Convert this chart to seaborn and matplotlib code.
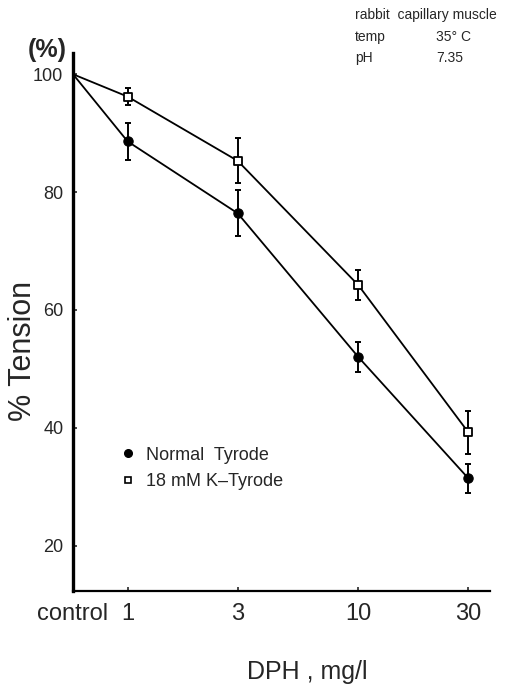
import matplotlib
matplotlib.use("Agg")
import matplotlib.pyplot as plt
import seaborn as sns
import pandas as pd
from matplotlib.lines import Line2D

# ---- data ----
dose_labels = ["control", "1", "3", "10", "30"]
dose_pos = [0.58, 1, 3, 10, 30]          # "control" placed at the left edge of the log axis
normal_mean = [100, 88.6, 76.4, 52.0, 31.4]
normal_err = [0, 3.2, 3.9, 2.5, 2.5]
k_mean = [100, 96.2, 85.3, 64.2, 39.2]
k_err = [0, 1.4, 3.8, 2.6, 3.6]
series_names = ["Normal  Tyrode", "18 mM K\u2013Tyrode"]
yticks = [20, 40, 60, 80, 100]

df = pd.concat([
    pd.DataFrame({"dose": dose_pos, "tension": normal_mean, "err": normal_err, "series": series_names[0]}),
    pd.DataFrame({"dose": dose_pos, "tension": k_mean, "err": k_err, "series": series_names[1]}),
], ignore_index=True)

sns.set_theme(style="ticks")
plt.rcParams["font.family"] = ["Liberation Sans", "DejaVu Sans"]

fig = plt.figure(figsize=(5.31, 6.86), dpi=100)
ax = fig.add_axes([73 / 531, 1 - 591 / 686, (490 - 73) / 531, (591 - 53) / 686])

# lines
sns.lineplot(data=df, x="dose", y="tension", hue="series",
             palette=["black", "black"], lw=1.3, legend=False, ax=ax,
             estimator=None, sort=False, zorder=2)

# error bars
for name in series_names:
    sub = df[(df.series == name) & (df.err > 0)]
    ax.errorbar(sub.dose, sub.tension, yerr=sub.err, fmt="none", ecolor="black",
                elinewidth=1.4, capsize=2.5, capthick=1.4, zorder=3)

# markers (not at control)
mk = df[df.err > 0]
sns.scatterplot(data=mk[mk.series == series_names[0]], x="dose", y="tension",
                marker="o", s=45, color="black", edgecolor="black", linewidth=0.8,
                ax=ax, zorder=4, legend=False)
sns.scatterplot(data=mk[mk.series == series_names[1]], x="dose", y="tension",
                marker="s", s=28, facecolor="white", edgecolor="black", linewidth=1.3,
                ax=ax, zorder=4, legend=False)

ax.set_xscale("log")
ax.set_xlim(0.58, 37.2)
ax.set_ylim(12.3, 103.6)
ax.set_xticks(dose_pos)
ax.set_xticklabels(dose_labels)
ax.xaxis.set_minor_locator(matplotlib.ticker.NullLocator())
ax.set_yticks(yticks)
ax.set_yticklabels([str(v) for v in yticks])

ax.tick_params(axis="x", direction="in", length=3, width=1.2, labelsize=17, pad=9)
ax.tick_params(axis="y", direction="in", length=3, width=1.2, labelsize=13, pad=7)

sns.despine(ax=ax)
ax.spines["left"].set_linewidth(2.4)
ax.spines["bottom"].set_linewidth(1.6)
ax.spines["left"].set_color("black")
ax.spines["bottom"].set_color("black")

ax.set_xlabel("DPH , mg/l", fontsize=18)
ax.xaxis.label.set_va("center")
ax.xaxis.set_label_coords(0.561, -0.151)
ax.set_ylabel("% Tension", fontsize=22)
ax.yaxis.label.set_va("center")
ax.yaxis.set_label_coords(-0.121, 0.446)

fig.text(47 / 531, 1 - 50 / 686, "(%)", fontsize=18, fontweight="bold",
         ha="center", va="center")

# annotation
fig.text(355 / 531, 1 - 15 / 686, "rabbit  capillary muscle", fontsize=10, va="center")
fig.text(355 / 531, 1 - 37 / 686, "temp", fontsize=10, va="center")
fig.text(436 / 531, 1 - 37 / 686, "35\u00b0 C", fontsize=10, va="center")
fig.text(355 / 531, 1 - 58 / 686, "pH", fontsize=10, va="center")
fig.text(436 / 531, 1 - 58 / 686, "7.35", fontsize=10, va="center")

handles = [
    Line2D([], [], marker="o", ls="none", color="black", markersize=5.5),
    Line2D([], [], marker="s", ls="none", markerfacecolor="white", markeredgecolor="black",
           markeredgewidth=1.2, markersize=4.5),
]
ax.legend(handles, series_names, loc="upper left", bbox_to_anchor=(0.097, 0.282),
          frameon=False, fontsize=13, handlelength=0.8, handletextpad=0.6,
          labelspacing=0.55, borderaxespad=0)

fig.savefig("out.png", dpi=100)
